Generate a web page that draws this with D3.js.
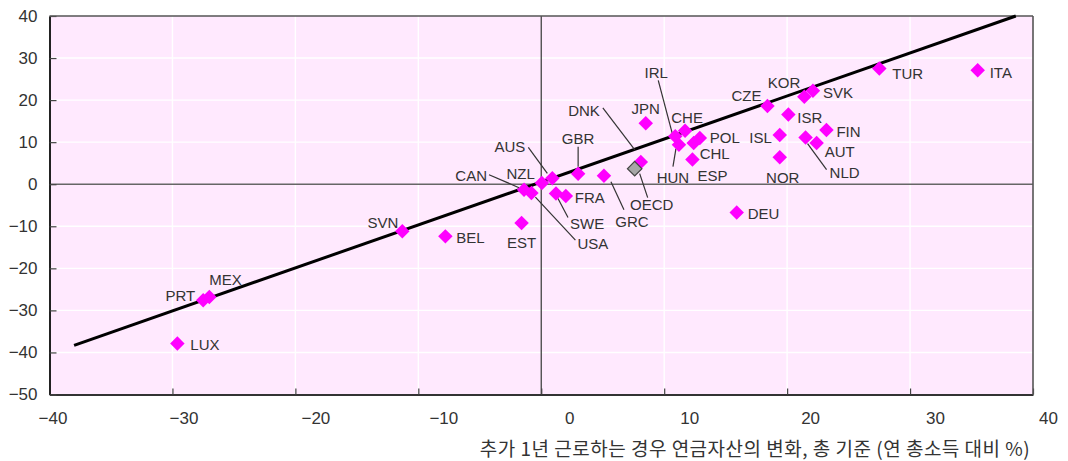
<!DOCTYPE html>
<html>
<head>
<meta charset="utf-8">
<script src="https://cdn.jsdelivr.net/npm/d3@7/dist/d3.min.js"></script>
<style>
  html, body { margin: 0; padding: 0; background: #ffffff; }
  svg { display: block; }
</style>
</head>
<body>
<svg id="chart" width="1068" height="461"></svg>
<script>
// ---- data ----
const countries = ["ITA","TUR","KOR","SVK","CZE","ISR","FIN","ISL","NLD","AUT","NOR","DEU",
                   "POL","CHL","ESP","CHE","IRL","HUN","JPN","DNK","GBR","GRC","AUS","NZL",
                   "CAN","USA","FRA","SWE","EST","BEL","SVN","MEX","PRT","LUX","OECD"];
const xValues = [35.5, 27.5, 21.4, 22.1, 18.4, 20.1, 23.2, 19.4, 21.5, 22.4, 19.4, 15.9,
                 12.9, 12.4, 12.3, 11.7, 10.9, 11.2, 8.5, 8.1, 3.0, 5.1, 0.9, 0.05,
                 -1.4, -0.8, 2.0, 1.2, -1.6, -7.8, -11.3, -27.0, -27.5, -29.6, 7.6];
const yValues = [27.1, 27.5, 20.8, 22.2, 18.6, 16.6, 12.9, 11.7, 11.1, 9.8, 6.4, -6.7,
                 11.0, 9.8, 5.9, 12.7, 11.4, 9.4, 14.5, 5.3, 2.5, 2.0, 1.4, 0.3,
                 -1.3, -2.1, -2.8, -2.2, -9.2, -12.4, -11.2, -26.8, -27.6, -37.9, 3.7];
const trendX = [-38, 38.6];
const trendY = [-38.3, 40];
const xTicks = [-40, -30, -20, -10, 0, 10, 20, 30, 40];
const yTicks = [-50, -40, -30, -20, -10, 0, 10, 20, 30, 40];
const xTitle = "추가 1년 근로하는 경우 연금자산의 변화, 총 기준 (연 총소득 대비 %)";

// ---- layout (pixel offsets for labels / leader lines) ----
const labelLayout = {
  ITA: {dx: 12, dy: 2, a: "start"}, TUR: {dx: 13, dy: 5, a: "start"},
  KOR: {dx: -4, dy: -14, a: "end"}, SVK: {dx: 10, dy: 2, a: "start"},
  CZE: {dx: -6, dy: -10, a: "end"}, ISR: {dx: 9, dy: 3, a: "start"},
  FIN: {dx: 10, dy: 2, a: "start"}, ISL: {dx: -8, dy: 2, a: "end"},
  NLD: {dx: 24, dy: 35, a: "start", l: [2, 6, 21, 32]},
  AUT: {dx: 8, dy: 8, a: "start"}, NOR: {dx: 3, dy: 20, a: "middle"},
  DEU: {dx: 11, dy: 1, a: "start"}, POL: {dx: 10, dy: 0, a: "start"},
  CHL: {dx: 6, dy: 10, a: "start"}, ESP: {dx: 5, dy: 16, a: "start"},
  CHE: {dx: 2, dy: -13, a: "middle"},
  IRL: {dx: -19, dy: -64, a: "middle", l: [-3, -3, -17, -56]},
  HUN: {dx: -6, dy: 33, a: "middle", l: [-3, 4, -6, 22]},
  JPN: {dx: 0, dy: -15, a: "middle"},
  DNK: {dx: -41, dy: -51, a: "end", l: [-6, -12, -38, -54]},
  GBR: {dx: 0, dy: -35, a: "middle", l: [0, -7, 0, -27]},
  GRC: {dx: 28, dy: 46, a: "middle", l: [7, 6, 20, 34]},
  AUS: {dx: -27, dy: -32, a: "end", l: [-5, -5, -24, -31]},
  NZL: {dx: -7, dy: -9, a: "end"},
  CAN: {dx: -37, dy: -14, a: "end", l: [-5, -2, -35, -15]},
  USA: {dx: 46, dy: 50, a: "start", l: [4, 4, 44, 47]},
  FRA: {dx: 9, dy: 2, a: "start"},
  SWE: {dx: 14, dy: 30, a: "start", l: [2, 5, 12, 24]},
  EST: {dx: 0, dy: 20, a: "middle"}, BEL: {dx: 11, dy: 1, a: "start"},
  SVN: {dx: -4, dy: -9, a: "end"}, MEX: {dx: 0, dy: -17, a: "start"},
  PRT: {dx: -8, dy: -5, a: "end"}, LUX: {dx: 13, dy: 1, a: "start"},
  OECD: {dx: 17, dy: 36, a: "middle", l: [5, 5, 13, 29]}
};
const xTickShift = [3, 11, 20, 25, 28, 25, 23, 25, 15];

const svg = d3.select("#chart");
const L = 49.5, R = 1033, T = 16, B = 394.5;
const x = d3.scaleLinear().domain([-40, 40]).range([L, R]);
const y = d3.scaleLinear().domain([-50, 40]).range([B, T]);
const font = "'Liberation Sans', Arial, Helvetica, sans-serif";

// background
svg.append("rect").attr("x", L).attr("y", T).attr("width", R - L).attr("height", B - T)
  .attr("fill", "#ffe9fe");

// gridlines
svg.append("g").selectAll("line").data(yTicks.filter(d => d !== 0 && d > -50 && d < 40)).join("line")
  .attr("x1", L).attr("x2", R).attr("y1", d => y(d)).attr("y2", d => y(d))
  .attr("stroke", "#ffffff").attr("stroke-width", 1.4);
svg.append("g").selectAll("line").data(xTicks.filter(d => d !== 0 && d > -40 && d < 40)).join("line")
  .attr("y1", T).attr("y2", B).attr("x1", d => x(d)).attr("x2", d => x(d))
  .attr("stroke", "#ffffff").attr("stroke-width", 1.4);

// zero lines
svg.append("line").attr("x1", L).attr("x2", R).attr("y1", y(0)).attr("y2", y(0))
  .attr("stroke", "#666").attr("stroke-width", 1.5);
svg.append("line").attr("y1", T).attr("y2", B).attr("x1", x(0)).attr("x2", x(0))
  .attr("stroke", "#444").attr("stroke-width", 1.3);

// axes
const xAxis = svg.append("g").attr("transform", `translate(0,${B})`)
  .call(d3.axisBottom(x).tickValues(xTicks).tickSizeInner(-6).tickSizeOuter(0).tickPadding(17));
xAxis.select(".domain").attr("stroke", "#333").attr("stroke-width", 2);
xAxis.selectAll(".tick line").attr("stroke", "#444").attr("stroke-width", 1.2);
xAxis.selectAll(".tick text").attr("font-family", font).attr("font-size", 17).attr("fill", "#333")
  .attr("dx", (d, i) => xTickShift[i]);

const yAxis = svg.append("g").attr("transform", `translate(${L},0)`)
  .call(d3.axisLeft(y).tickValues(yTicks).tickSizeInner(-7).tickSizeOuter(0).tickPadding(12));
yAxis.select(".domain").attr("stroke", "#222").attr("stroke-width", 2);
yAxis.selectAll(".tick line").attr("stroke", "#444").attr("stroke-width", 1.2);
yAxis.selectAll(".tick text").attr("font-family", font).attr("font-size", 17).attr("fill", "#333");

// top & right border
svg.append("line").attr("x1", L).attr("x2", R).attr("y1", T).attr("y2", T)
  .attr("stroke", "#555").attr("stroke-width", 1.6);
svg.append("line").attr("x1", R).attr("x2", R).attr("y1", T).attr("y2", B)
  .attr("stroke", "#555").attr("stroke-width", 1.6);

// trend line
svg.append("path")
  .datum(trendX.map((v, i) => [v, trendY[i]]))
  .attr("d", d3.line().x(d => x(d[0])).y(d => y(d[1])))
  .attr("fill", "none").attr("stroke", "#000").attr("stroke-width", 3);

const pts = countries.map((c, i) => ({c, x: xValues[i], y: yValues[i]}));

// leader lines
svg.append("g").selectAll("line").data(pts.filter(p => labelLayout[p.c].l)).join("line")
  .attr("x1", p => x(p.x) + labelLayout[p.c].l[0]).attr("y1", p => y(p.y) + labelLayout[p.c].l[1])
  .attr("x2", p => x(p.x) + labelLayout[p.c].l[2]).attr("y2", p => y(p.y) + labelLayout[p.c].l[3])
  .attr("stroke", "#333").attr("stroke-width", 1.2);

// diamonds
const sym = d3.symbol().type(d3.symbolSquare).size(105);
svg.append("g").selectAll("path").data(pts).join("path")
  .attr("d", sym)
  .attr("transform", p => `translate(${x(p.x)},${y(p.y)}) rotate(45)`)
  .attr("fill", p => p.c === "OECD" ? "#a6a6a6" : "#ff00ff")
  .attr("stroke", p => p.c === "OECD" ? "#444" : "none")
  .attr("stroke-width", 1.2);

// labels
svg.append("g").selectAll("text").data(pts).join("text")
  .attr("x", p => x(p.x) + labelLayout[p.c].dx)
  .attr("y", p => y(p.y) + labelLayout[p.c].dy)
  .attr("dominant-baseline", "central")
  .attr("text-anchor", p => labelLayout[p.c].a)
  .attr("font-family", font).attr("font-size", 15).attr("fill", "#333")
  .text(p => p.c);

// x title
svg.append("text").attr("x", 755).attr("y", 447)
  .attr("dominant-baseline", "central").attr("text-anchor", "middle")
  .attr("font-family", "'Noto Sans CJK KR', sans-serif").attr("font-size", 19)
  .attr("letter-spacing", 0.5).attr("fill", "#333")
  .text(xTitle);
</script>
</body>
</html>
